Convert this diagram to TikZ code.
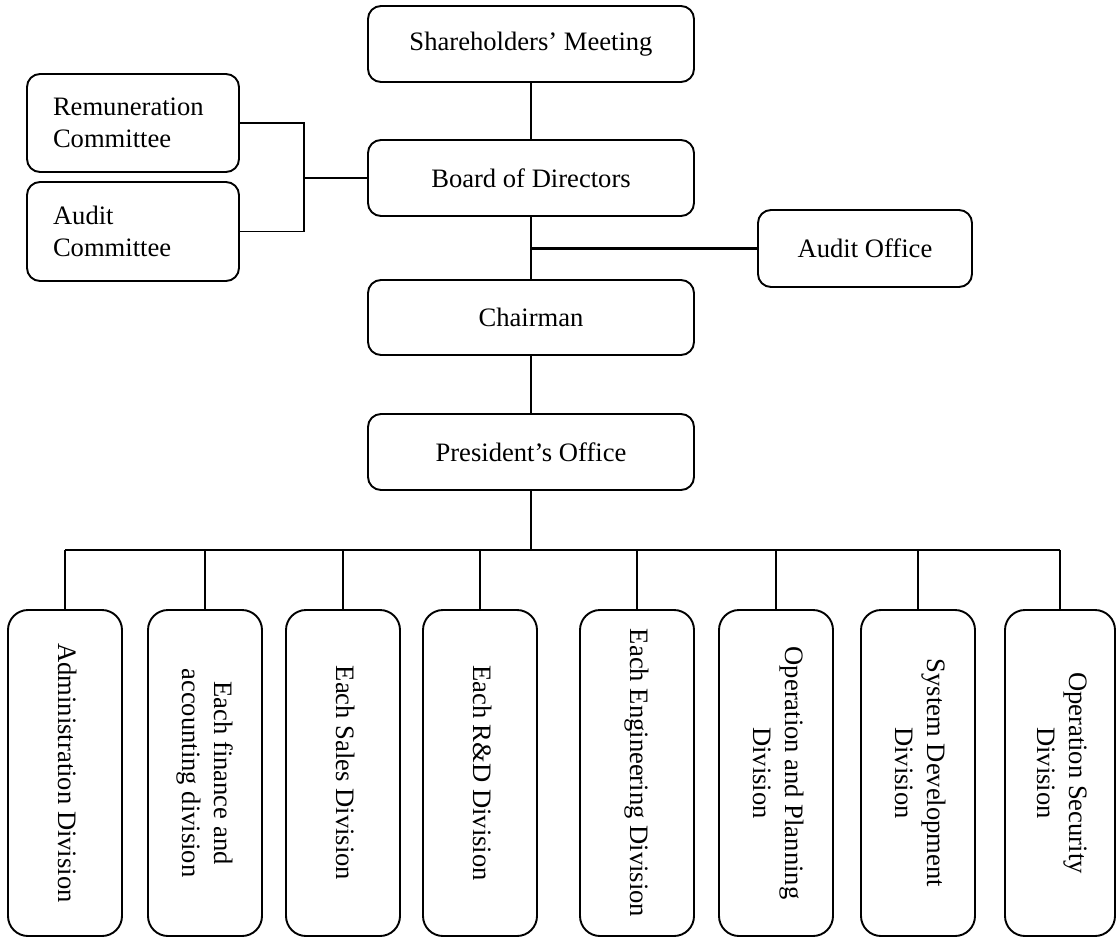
\documentclass[tikz,border=0pt]{standalone}
\usepackage{fontspec}
\setmainfont{Liberation Serif}
\newcommand\chartfont{\fontsize{26.6}{31.5}\selectfont}
\newcommand\vlabel[1]{\rotatebox[origin=c]{-90}{\begin{tabular}{@{}c@{}}#1\end{tabular}}}
\begin{document}
\begin{tikzpicture}[x=1pt,y=-1pt,
  box/.style={draw, line width=1.9pt, rounded corners=13pt, inner sep=0pt, align=center, font=\chartfont},
  topbox/.style={box, minimum width=326pt, minimum height=76pt},
  sidebox/.style={box, minimum width=212pt, minimum height=98pt, text width=160pt, align=left},
  divbox/.style={box, rounded corners=20pt, minimum width=114pt, minimum height=326pt},
  link/.style={line width=1.4pt},
  boldlink/.style={line width=2.4pt},
]
\useasboundingbox (0,0) rectangle (1116,938);

% upper chain of command
\node[topbox] (sh)  at (531,44)    {Shareholders’ Meeting};
\node[topbox] (bod) at (531,178)   {Board of Directors};
\node[topbox, minimum height=75pt] (ch) at (531,317.5) {Chairman};
\node[topbox] (pr)  at (531,452)   {President’s Office};

% committees and audit office
\node[sidebox] (rem) at (133,123)   {Remuneration\\Committee};
\node[sidebox, minimum height=99pt] (ac) at (133,231.5) {Audit\\Committee};
\node[box, minimum width=214pt, minimum height=77pt] (ao) at (865,248.5) {Audit Office};

% divisions
\node[divbox] (adm)   at (65,773)  {\vlabel{Administration Division}};
\node[divbox] (fin)   at (205,773) {\vlabel{Each finance and\\accounting division}};
\node[divbox] (sales) at (343,773) {\vlabel{Each Sales Division}};
\node[divbox] (rd)    at (480,773) {\vlabel{Each R\&D Division}};
\node[divbox] (eng)   at (637,773) {\vlabel{Each Engineering Division}};
\node[divbox] (op)    at (776,773) {\vlabel{Operation and Planning\\Division}};
\node[divbox] (sd)    at (918,773) {\vlabel{System Development\\Division}};
\node[divbox, minimum width=110pt] (os) at (1060,773) {\vlabel{Operation Security\\Division}};

% connectors
\coordinate (cj)  at (304,178);
\coordinate (bus) at (531,550);

\draw[link] (sh.south) -- (bod.north);
\draw[link] (bod.south) -- (ch.north);
\draw[link] (ch.south) -- (pr.north);
\draw[boldlink] (ao.west) -- (ao.west -| bod.south);

\draw[link] (rem.east) -| (cj) |- (ac.east);
\draw[link] (cj) -- (bod.west);

\draw[link] (pr.south) -- (pr.south |- bus);
\draw[link] (adm.north |- bus) -- (os.north |- bus);
\foreach \d in {adm,fin,sales,rd,eng,op,sd,os}
  \draw[link] (\d.north) -- (\d.north |- bus);
\end{tikzpicture}
\end{document}
